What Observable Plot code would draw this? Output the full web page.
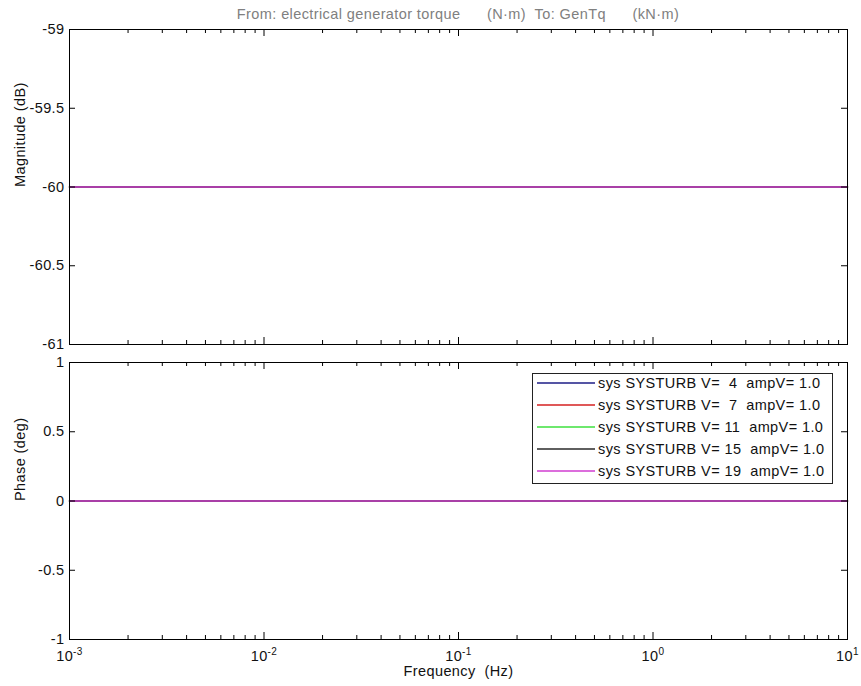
<!DOCTYPE html>
<html>
<head>
<meta charset="utf-8">
<script src="https://cdn.jsdelivr.net/npm/d3@7"></script>
<script src="https://cdn.jsdelivr.net/npm/@observablehq/plot@0.6"></script>
<style>
  body { margin: 0; background: #fff; }
  #fig { position: relative; width: 861px; height: 686px; background: #fff;
         font-family: "Liberation Sans", Arial, sans-serif; color: #111; }
  #fig svg { position: absolute; left: 0; overflow: visible; }
  #fig svg text { white-space: pre; letter-spacing: 0.4px; }
  #title { position: absolute; left: 69px; width: 778px; top: 6px; text-align: center;
           font-size: 14.5px; line-height: 16px; color: #808080; white-space: pre; letter-spacing: 0.4px; }
  #legend { position: absolute; left: 532px; top: 373px; width: 299px; height: 109px;
            border: 1px solid #222; background: #fff; }
  #legend .row { position: absolute; left: 0; height: 22px; display: flex; align-items: center;
                 font-size: 14.5px; white-space: pre; color: #111; letter-spacing: 0.4px; }
  #legend .row svg { position: static; margin-left: 4px; margin-right: 3px; }
</style>
</head>
<body>
<div id="fig">
  <div id="title">From: electrical generator torque      (N·m)  To: GenTq      (kN·m)</div>
</div>
<script>
// Bode response of the generator-torque channel for five wind speeds
const freqHz = [0.001, 10];
const windSpeeds = [4, 7, 11, 15, 19];
const magnitudeDb = [-60, -60, -60, -60, -60];
const phaseDeg = [0, 0, 0, 0, 0];
const seriesColors = ["#1c1c86", "#d42020", "#3ee03e", "#2a2a2a", "#d03cd0"];

const magTicks = [-61, -60.5, -60, -59.5, -59];
const phaseTicks = [-1, -0.5, 0, 0.5, 1];
const decadeTicks = [1e-3, 1e-2, 1e-1, 1, 10];
const minorSteps = [2, 3, 4, 5, 6, 7, 8, 9];

const seriesNames = windSpeeds.map(v => `sys SYSTURB V= ${String(v).padStart(2, " ")}  ampV= 1.0`);
const minorTicks = decadeTicks.slice(0, -1).flatMap(d => minorSteps.map(m => d * m));

const rows = seriesNames.flatMap((name, i) =>
  freqHz.map(f => ({f, name, mag: magnitudeDb[i], phase: phaseDeg[i]})));

const W = 861, mL = 69, mR = 14;
const fontFamily = '"Liberation Sans", Arial, sans-serif';

function panel({top, height, marginTop, marginBottom, yKey, yDomain, yTicks, yLabel, showX}) {
  const fw = W - mL - mR;
  const fh = height - marginTop - marginBottom;
  const marks = [
    Plot.line(rows, {x: "f", y: yKey, z: "name", stroke: "name", strokeWidth: 1.4}),
    // inward minor and decade ticks on all four sides
    Plot.tickX(minorTicks, {x: d => d, insetTop: fh - 4, stroke: "#000"}),
    Plot.tickX(minorTicks, {x: d => d, insetBottom: fh - 4, stroke: "#000"}),
    Plot.tickX(decadeTicks, {x: d => d, insetTop: fh - 7, stroke: "#000"}),
    Plot.tickX(decadeTicks, {x: d => d, insetBottom: fh - 7, stroke: "#000"}),
    Plot.tickY(yTicks, {y: d => d, insetRight: fw - 6, stroke: "#000"}),
    Plot.tickY(yTicks, {y: d => d, insetLeft: fw - 6, stroke: "#000"}),
    Plot.frame({stroke: "#000"}),
    Plot.axisY(yTicks, {tickSize: 0, tickPadding: 5, fontSize: 14.5, label: null,
                        tickFormat: d => String(d)}),
    Plot.text([yLabel], {text: d => d, frameAnchor: "left", dx: -49, rotate: -90,
                         fontSize: 14.5, fill: "#111"})
  ];
  if (showX) {
    marks.push(
      Plot.axisX(decadeTicks, {tickSize: 0, tickPadding: 11, fontSize: 14.5, label: null,
                               tickFormat: d => "10^" + Math.round(Math.log10(d))}),
      Plot.text(["Frequency  (Hz)"], {text: d => d, frameAnchor: "bottom", dy: 36,
                                      fontSize: 14.5, fill: "#111"})
    );
  }
  const svg = Plot.plot({
    width: W, height, marginTop, marginBottom, marginLeft: mL, marginRight: mR,
    style: {fontFamily, fontSize: "14.5px", color: "#111", background: "transparent"},
    x: {type: "log", domain: [freqHz[0], freqHz[freqHz.length - 1]], axis: null},
    y: {domain: yDomain, axis: null},
    color: {domain: seriesNames, range: seriesColors},
    marks
  });
  svg.style.top = top + "px";
  // decade labels as 10 with a raised exponent
  svg.querySelectorAll('[aria-label="x-axis tick label"] text').forEach(t => {
    const [base, exp] = t.textContent.split("^");
    if (exp === undefined) return;
    t.textContent = "";
    const b = document.createElementNS("http://www.w3.org/2000/svg", "tspan");
    b.textContent = base;
    const e = document.createElementNS("http://www.w3.org/2000/svg", "tspan");
    e.textContent = exp;
    e.setAttribute("dy", "-6");
    e.setAttribute("font-size", "10");
    t.append(b, e);
  });
  return svg;
}

const fig = document.getElementById("fig");
fig.append(panel({top: 0, height: 350, marginTop: 29, marginBottom: 6, yKey: "mag",
                  yDomain: [magTicks[0], magTicks[magTicks.length - 1]], yTicks: magTicks,
                  yLabel: "Magnitude (dB)", showX: false}));
fig.append(panel({top: 350, height: 336, marginTop: 12, marginBottom: 47, yKey: "phase",
                  yDomain: [phaseTicks[0], phaseTicks[phaseTicks.length - 1]], yTicks: phaseTicks,
                  yLabel: "Phase (deg)", showX: true}));

// legend box inside the phase panel
const legend = document.createElement("div");
legend.id = "legend";
seriesNames.forEach((name, i) => {
  const row = document.createElement("div");
  row.className = "row";
  row.style.top = (i * 22 - 2) + "px";
  row.innerHTML = `<svg width="58" height="4"><line x1="0" x2="58" y1="2" y2="2" stroke="${seriesColors[i]}" stroke-width="1.4"/></svg><span>${name}</span>`;
  legend.append(row);
});
fig.append(legend);
</script>
</body>
</html>
